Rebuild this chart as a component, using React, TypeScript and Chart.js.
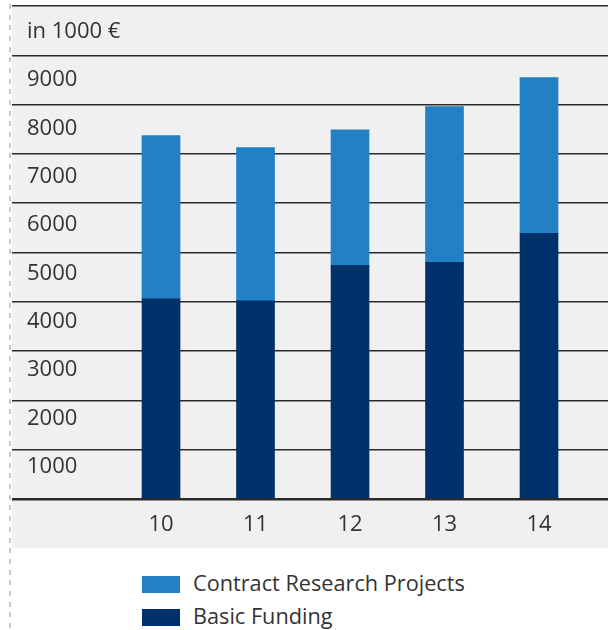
import React, { useEffect, useRef } from "react";
import { Chart, registerables } from "chart.js";

Chart.register(...registerables);

const years = [10, 11, 12, 13, 14];
const basicFunding = [4060, 4020, 4740, 4800, 5390];
const contractResearch = [3310, 3110, 2750, 3160, 3160];
const gridValues = [0, 1000, 2000, 3000, 4000, 5000, 6000, 7000, 8000, 9000, 10000];
const labelValues = [1000, 2000, 3000, 4000, 5000, 6000, 7000, 8000, 9000, 10000];
const unitLabel = "in 1000 €";
const seriesNames = ["Contract Research Projects", "Basic Funding"];

const LIGHT = "#2281c5";
const DARK = "#00316b";
const TEXT = "#333333";
const FONT = "'Open Sans', 'Noto Sans', sans-serif";

const panelBg = {
  id: "panelBg",
  beforeDraw(chart: any) {
    const { ctx, chartArea, width, height } = chart;
    ctx.save();
    ctx.fillStyle = "#f0f0f0";
    ctx.fillRect(chartArea.left, chartArea.top, width - chartArea.left, height - chartArea.top);
    ctx.restore();
  },
};

const zeroFit = (scale: any) => {
  scale.width = 0;
  scale.paddingTop = 0;
  scale.paddingBottom = 0;
};

export default function App() {
  const ref = useRef<HTMLCanvasElement | null>(null);

  useEffect(() => {
    if (!ref.current) return;
    const chart = new Chart(ref.current, {
      type: "bar",
      data: {
        datasets: [
          {
            label: seriesNames[1],
            data: years.map((x, i) => ({ x, y: basicFunding[i] })),
            backgroundColor: DARK,
            barThickness: 38,
          },
          {
            label: seriesNames[0],
            data: years.map((x, i) => ({ x, y: contractResearch[i] })),
            backgroundColor: LIGHT,
            barThickness: 38,
          },
        ],
      },
      options: {
        animation: false,
        responsive: false,
        layout: { padding: { left: 12, top: 6, right: 0, bottom: 0 } },
        plugins: { legend: { display: false }, tooltip: { enabled: false } },
        scales: {
          x: {
            type: "linear",
            stacked: true,
            offset: false,
            min: 8.423,
            max: 14.73,
            grid: { display: false },
            border: { display: false },
            afterBuildTicks: (scale: any) => {
              scale.ticks = years.map((v) => ({ value: v }));
            },
            afterFit: (scale: any) => {
              scale.height = 49;
              scale.paddingLeft = 0;
              scale.paddingRight = 0;
            },
            ticks: {
              padding: 5,
              color: TEXT,
              font: { family: FONT, size: 22 },
              callback: (v: any) => String(v),
            },
          },
          y: {
            stacked: true,
            min: 0,
            max: 10000,
            afterBuildTicks: (scale: any) => {
              scale.ticks = gridValues.map((v) => ({ value: v }));
            },
            afterFit: zeroFit,
            grid: {
              drawTicks: false,
              color: "#2a2a2a",
              lineWidth: (c: any) => (c.tick && c.tick.value === 0 ? 2.5 : 1.5),
            },
            border: { display: false },
            ticks: { display: false },
          },
          yLabels: {
            type: "linear",
            position: "left",
            min: 334,
            max: 10530,
            afterBuildTicks: (scale: any) => {
              scale.ticks = labelValues.map((v) => ({ value: v }));
            },
            afterFit: zeroFit,
            grid: { display: false, drawTicks: false },
            border: { display: false },
            ticks: {
              mirror: true,
              padding: 15,
              color: TEXT,
              font: { family: FONT, size: 22 },
              callback: (v: any) => (v === 10000 ? unitLabel : String(v)),
            },
          },
        },
      },
      plugins: [panelBg],
    });
    return () => chart.destroy();
  }, []);

  const legendRow = (top: number, color: string, text: string) => (
    <div
      style={{
        position: "absolute",
        left: 142,
        top,
        height: 26,
        display: "flex",
        alignItems: "center",
        fontFamily: FONT,
        fontSize: 21.7,
        color: TEXT,
        whiteSpace: "nowrap",
      }}
    >
      <span style={{ display: "inline-block", width: 38, height: 17, background: color, marginRight: 13 }} />
      <span style={{ position: "relative", top: -2 }}>{text}</span>
    </div>
  );

  return (
    <div style={{ position: "absolute", left: 0, top: 0, width: 608, height: 630, background: "#fff", overflow: "hidden" }}>
      <div
        style={{
          position: "absolute",
          left: 9,
          top: 0,
          width: 2,
          height: 630,
          background: "repeating-linear-gradient(to bottom, #c8c8c8 0px, #c8c8c8 5px, transparent 5px, transparent 10.67px)",
          backgroundPosition: "0 4px",
        }}
      />
      <canvas ref={ref} width={608} height={548} style={{ position: "absolute", left: 0, top: 0, display: "block" }} />
      {legendRow(571, LIGHT, seriesNames[0])}
      {legendRow(604, DARK, seriesNames[1])}
    </div>
  );
}
